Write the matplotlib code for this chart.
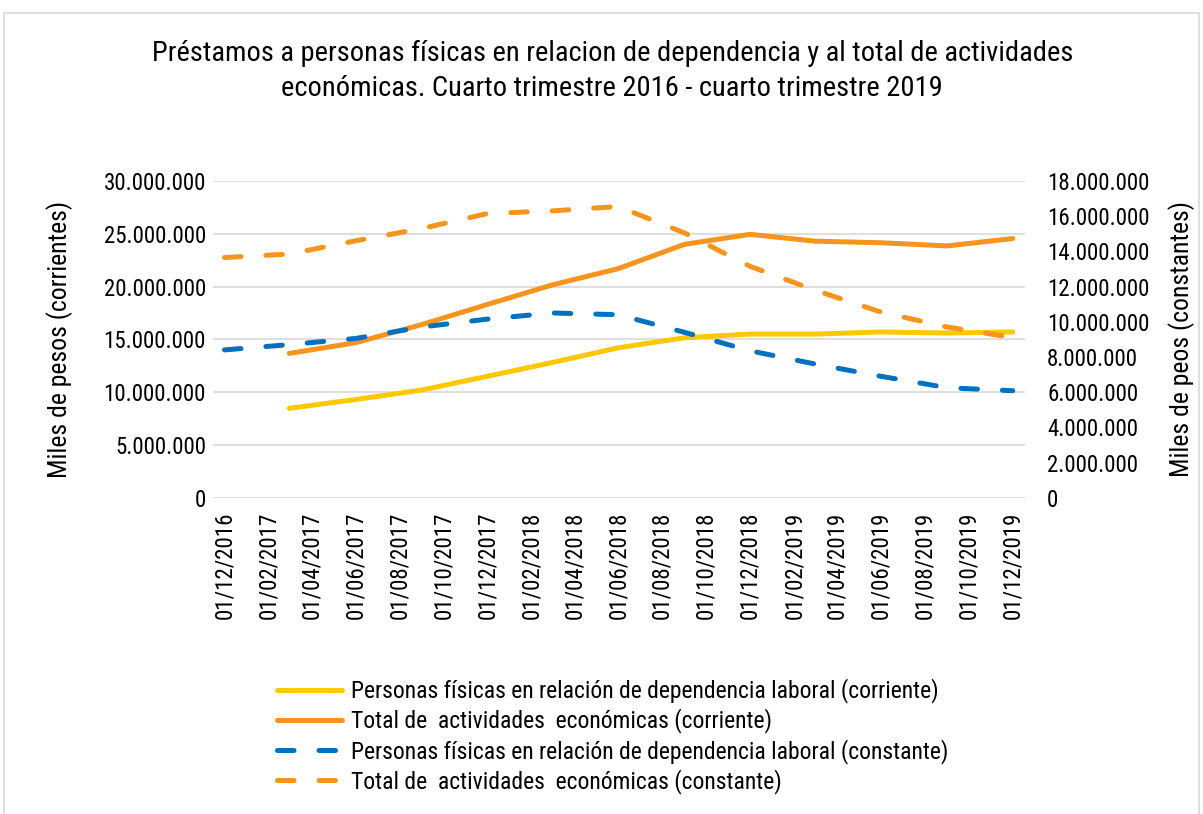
import numpy as np
import pandas as pd
import matplotlib
matplotlib.use('Agg')
import matplotlib.pyplot as plt
import matplotlib.dates as mdates
from matplotlib.patches import Rectangle
from matplotlib.ticker import FuncFormatter

plt.rcParams['font.family'] = ['Roboto Condensed', 'Liberation Sans Narrow', 'DejaVu Sans']
plt.rcParams['font.stretch'] = 'condensed'

# Quarterly data
fechas = pd.to_datetime(['2016-12-01', '2017-03-01', '2017-06-01', '2017-09-01',
                         '2017-12-01', '2018-03-01', '2018-06-01', '2018-09-01',
                         '2018-12-01', '2019-03-01', '2019-06-01', '2019-09-01',
                         '2019-12-01'])
# current pesos (left axis), thousands
personas_corr = [np.nan, 8.47e6, 9.3e6, 10.2e6, 11.5e6, 12.8e6, 14.2e6, 15.15e6,
                 15.5e6, 15.5e6, 15.7e6, 15.6e6, 15.7e6]
total_corr = [np.nan, 13.67e6, 14.68e6, 16.4e6, 18.3e6, 20.15e6, 21.7e6, 24.0e6,
              24.95e6, 24.3e6, 24.15e6, 23.85e6, 24.55e6]
# constant pesos (right axis), thousands
personas_const = [8.4e6, 8.7e6, 9.05e6, 9.7e6, 10.15e6, 10.5e6, 10.4e6, 9.4e6,
                  8.35e6, 7.6e6, 6.9e6, 6.25e6, 6.08e6]
total_const = [13.65e6, 13.85e6, 14.6e6, 15.3e6, 16.15e6, 16.3e6, 16.55e6, 15.05e6,
               13.15e6, 11.8e6, 10.55e6, 9.7e6, 9.1e6]

labels = ['Personas físicas en relación de dependencia laboral (corriente)',
          'Total de  actividades  económicas (corriente)',
          'Personas físicas en relación de dependencia laboral (constante)',
          'Total de  actividades  económicas (constante)']

amarillo = '#FFC800'
naranja = '#F7941D'
azul = '#0070C0'

fig = plt.figure(figsize=(12.03, 8.14), dpi=100)
fig.patches.append(Rectangle((4 / 1203, -0.01), 1195 / 1203, 1.01 - 13 / 814,
                             transform=fig.transFigure, fill=False,
                             edgecolor='#D9D9D9', linewidth=1.2))

ax = fig.add_axes([213 / 1203, 1 - 497.7 / 814, 812 / 1203, 316.7 / 814])
ax2 = ax.twinx()

dash = (0, (3.3, 5.0))
l1, = ax.plot(fechas, personas_corr, color=amarillo, lw=3.6, solid_capstyle='round', label=labels[0])
l2, = ax.plot(fechas, total_corr, color=naranja, lw=3.6, solid_capstyle='round', label=labels[1])
l3, = ax2.plot(fechas, personas_const, color=azul, lw=3.6, linestyle=dash,
               dash_capstyle='round', label=labels[2])
l4, = ax2.plot(fechas, total_const, color=naranja, lw=3.6, linestyle=dash,
               dash_capstyle='round', label=labels[3])

fmt = FuncFormatter(lambda v, p: f'{int(round(v)):,}'.replace(',', '.'))

ax.set_ylim(0, 30e6)
ax.set_yticks(np.arange(0, 30e6 + 1, 5e6))
ax.yaxis.set_major_formatter(fmt)
ax2.set_ylim(0, 18e6)
ax2.set_yticks(np.arange(0, 18e6 + 1, 2e6))
ax2.yaxis.set_major_formatter(fmt)

ax.set_xlim(pd.Timestamp('2016-11-15'), pd.Timestamp('2019-12-18'))
ax.xaxis.set_major_locator(mdates.MonthLocator(bymonth=[2, 4, 6, 8, 10, 12], bymonthday=1))
ax.xaxis.set_major_formatter(mdates.DateFormatter('%d/%m/%Y'))
for t in ax.get_xticklabels():
    t.set_rotation(90)

ax.grid(axis='y', color='#D9D9D9', linewidth=1.2)
ax.set_axisbelow(True)
for a in (ax, ax2):
    for s in a.spines.values():
        s.set_visible(False)
ax.tick_params(axis='both', length=0, labelsize=16.5)
ax.tick_params(axis='x', pad=10)
ax.tick_params(axis='y', pad=5)
ax2.tick_params(axis='y', length=0, labelsize=16.5, pad=16)

ax.set_ylabel('Miles de pesos (corrientes)', fontsize=18.5, labelpad=22)
ax2.set_ylabel('Miles de peos (constantes)', fontsize=18.5, labelpad=13)

fig.suptitle('Préstamos a personas físicas en relacion de dependencia y al total de actividades\n'
             'económicas. Cuarto trimestre 2016 - cuarto trimestre 2019',
             x=0.509, y=0.951, fontsize=20.5, linespacing=1.38)

fig.legend(handles=[l1, l2, l3, l4], loc='upper left', bbox_to_anchor=(268 / 1203, 1 - 669 / 814),
           frameon=False, fontsize=17, handlelength=2.75, handletextpad=0.35,
           labelspacing=0.22, borderaxespad=0)

fig.savefig('out.png', dpi=100)
